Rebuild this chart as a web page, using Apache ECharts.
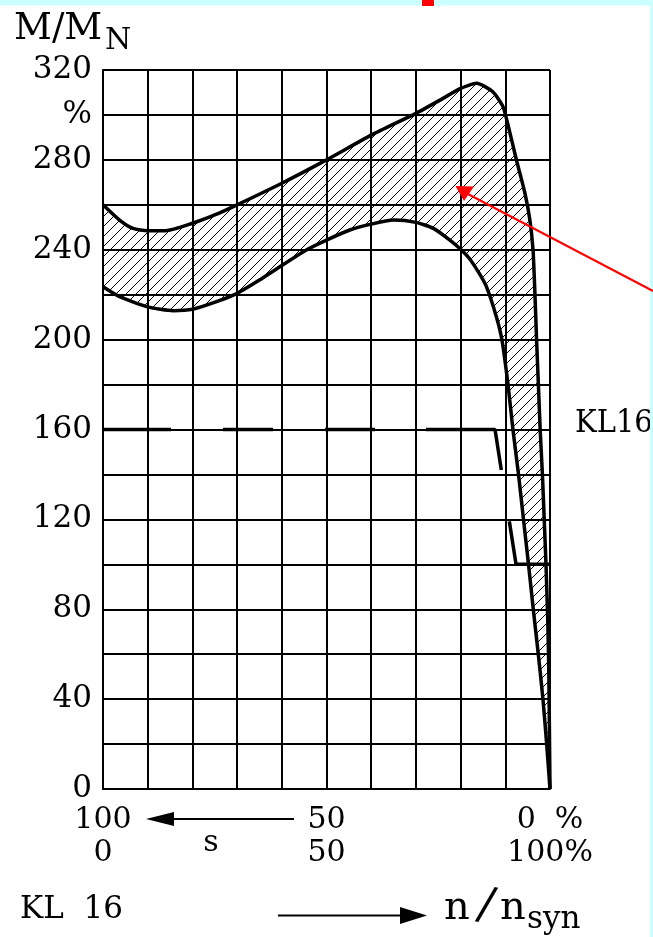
<!DOCTYPE html>
<html>
<head>
<meta charset="utf-8">
<script src="https://cdn.jsdelivr.net/npm/echarts@6/dist/echarts.min.js"></script>
<style>
html,body{margin:0;padding:0;background:#fff;}
#chart{width:653px;height:937px;}
</style>
</head>
<body>
<div id="chart"></div>
<script>
// ---- data (speed n/nsyn in %, torque M/MN in %) ----
const upperCurve = [
  [0,260],[3.7,253.2],[6.7,249.5],[10,248.5],[14,248.5],[20,251.8],[25,255.5],[30,260],
  [40,269.6],[50,280],[60,291],[70,300.7],[75.4,306.6],[80,311.8],[83.6,314.1],[87.2,310.3],
  [89.5,303.6],[90.7,294.8],[92.5,279.9],[94.4,265.1],[95.5,253.2],[96.2,240],[96.6,222],
  [97.0,199.8],[97.4,180.1],[97.8,160.1],[98.3,140.1],[98.7,120.2],[99.1,100.1],[99.5,75],
  [99.75,50],[99.85,30],[100,0]
];
const lowerCurve = [
  [0,223.5],[3.7,219.1],[10,214.6],[15.7,212.9],[20,213.5],[25.4,216.9],[30,220.6],[35,226.5],
  [40,233],[45.5,239.9],[50,244.3],[55.2,248.8],[60,251.4],[65,253.2],[70,252.2],[73.9,249.5],
  [77.6,244.3],[80,240.2],[82,236],[84,230],[85.8,223.5],[88,210.2],[89.25,199.8],[90.6,180.1],
  [91.7,160.1],[92.95,140.1],[94.07,120],[95.19,100],[96.26,80],[97.38,60],[98.43,39.9],
  [99.26,19.9],[100,0]
];
const limitLine = [[0,160],[87.7,160],[92.4,100],[100,100]];

const torqueTickLabels = [0,40,80,120,160,200,240,280,320];
const torqueUnitTick = 300;
const speedTickValues = [0,50,100];
const slipLabels = ['100','50','0  %'];
const speedLabels = ['0','50','100%'];

// ---- hatch pattern ----
const hatch = document.createElement('canvas');
hatch.width = 10; hatch.height = 10;
(function(){
  const c = hatch.getContext('2d');
  c.strokeStyle = '#000'; c.lineWidth = 1;
  c.beginPath();
  c.moveTo(-1,11); c.lineTo(11,-1);
  c.moveTo(-6,6); c.lineTo(6,-6);
  c.moveTo(4,16); c.lineTo(16,4);
  c.stroke();
})();

const FONT = 'DejaVu Serif';
const chart = echarts.init(document.getElementById('chart'), null, {renderer:'canvas'});

chart.setOption({
  animation: false,
  backgroundColor: '#ffffff',
  grid: {left:103, top:70, width:447, height:719, containLabel:false},
  xAxis: {
    type:'value', min:0, max:100, interval:10,
    axisLine:{show:true, lineStyle:{color:'#000', width:2}},
    axisTick:{show:false},
    splitLine:{show:true, lineStyle:{color:'#000', width:2}},
    axisLabel:{
      show:true, margin:15, fontFamily:FONT, fontSize:30, color:'#000', lineHeight:33,
      formatter: function(v){
        const i = speedTickValues.indexOf(v);
        return i < 0 ? '' : slipLabels[i] + '\n' + speedLabels[i];
      }
    }
  },
  yAxis: {
    type:'value', min:0, max:320, interval:20,
    axisLine:{show:true, lineStyle:{color:'#000', width:2}},
    axisTick:{show:false},
    splitLine:{show:true, lineStyle:{color:'#000', width:2}},
    axisLabel:{
      show:true, margin:11, fontFamily:FONT, fontSize:31, color:'#000',
      formatter: function(v){
        if (torqueTickLabels.indexOf(v) >= 0) return String(v);
        if (v === torqueUnitTick) return '%';
        return '';
      }
    }
  },
  series: [
    {
      type:'custom', coordinateSystem:'cartesian2d', data:[[0,0]], z:2, silent:true,
      renderItem: function(params, api){
        const pts = upperCurve.map(p => api.coord(p))
          .concat(lowerCurve.slice().reverse().map(p => api.coord(p)));
        return {type:'polygon', shape:{points:pts}, style:{fill:{image:hatch, repeat:'repeat'}, stroke:null}};
      }
    },
    {
      type:'line', data:limitLine, showSymbol:false, smooth:false, z:3, clip:false,
      lineStyle:{color:'#000', width:3.5, type:[68,52,50,52,50,51,110,52,100], cap:'butt'}
    },
    {
      type:'line', data:upperCurve, showSymbol:false, smooth:0.2, z:4, clip:false,
      lineStyle:{color:'#000', width:3.5}
    },
    {
      type:'line', data:lowerCurve, showSymbol:false, smooth:0.2, z:4, clip:false,
      lineStyle:{color:'#000', width:3.5}
    }
  ],
  graphic: [
    {type:'rect', shape:{x:0,y:0,width:653,height:5.5}, style:{fill:'#ccffff'}, z:10},
    {type:'rect', shape:{x:422,y:0,width:12,height:6}, style:{fill:'#ff0000'}, z:11},
    {type:'rect', shape:{x:650,y:0,width:3,height:937}, style:{fill:'#ccffff'}, z:10},
    {type:'text', x:14, y:29, style:{text:'M/M', font:'37px "DejaVu Serif"', fill:'#000', verticalAlign:'middle', align:'left'}},
    {type:'text', x:105, y:41, style:{text:'N', font:'30px "DejaVu Serif"', fill:'#000', verticalAlign:'middle', align:'left'}},
    {type:'text', x:575, y:424, scaleY:1.12, style:{text:'KL16', font:'29px "DejaVu Serif"', fill:'#000', verticalAlign:'middle', align:'left'}},
    {type:'text', x:20, y:910, style:{text:'KL  16', font:'31px "DejaVu Serif"', fill:'#000', verticalAlign:'middle', align:'left'}},
    {type:'text', x:211, y:843, style:{text:'s', font:'30px "DejaVu Serif"', fill:'#000', verticalAlign:'middle', align:'center'}},
    {type:'text', x:444, y:909, style:{text:'n', font:'40px "DejaVu Serif"', fill:'#000', verticalAlign:'middle', align:'left'}},
    {type:'text', x:486, y:907, rotation:-0.22, style:{text:'/', font:'46px "DejaVu Serif"', fill:'#000', verticalAlign:'middle', align:'center'}},
    {type:'text', x:500, y:909, style:{text:'n', font:'40px "DejaVu Serif"', fill:'#000', verticalAlign:'middle', align:'left'}},
    {type:'text', x:527, y:920, style:{text:'syn', font:'31px "DejaVu Serif"', fill:'#000', verticalAlign:'middle', align:'left'}},
    // slip arrow
    {type:'line', shape:{x1:172,y1:819,x2:294,y2:819}, style:{stroke:'#000', lineWidth:2}},
    {type:'polygon', shape:{points:[[146,819],[174,812],[174,826]]}, style:{fill:'#000'}},
    // speed arrow
    {type:'line', shape:{x1:278,y1:915.5,x2:402,y2:915.5}, style:{stroke:'#000', lineWidth:2}},
    {type:'polygon', shape:{points:[[427,915.5],[400,907],[400,924]]}, style:{fill:'#000'}},
    // red pointer
    {type:'line', shape:{x1:653,y1:291,x2:466,y2:193}, style:{stroke:'#ff0000', lineWidth:2}, z:12},
    {type:'polygon', shape:{points:[[455.5,186],[474,186.5],[464,201]]}, style:{fill:'#ff0000'}, z:12}
  ]
});
</script>
</body>
</html>
